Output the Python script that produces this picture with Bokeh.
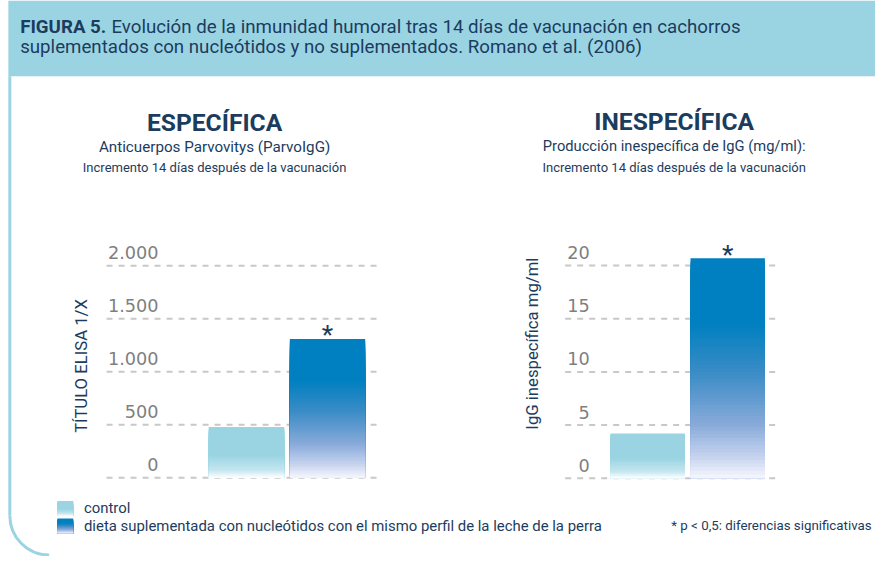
from math import pi
from bokeh.plotting import figure
from bokeh.models import Range1d
from bokeh.core.properties import value
from bokeh.embed import file_html
from bokeh.resources import INLINE

# ---------------- data ----------------
categories = ["control", "dieta suplementada con nucleótidos con el mismo perfil de la leche de la perra"]
elisa_values = [480, 1310]          # TÍTULO ELISA 1/X
igg_values = [4.2, 20.7]            # IgG inespecífica mg/ml
elisa_ticks = [0, 500, 1000, 1500, 2000]
elisa_tick_labels = ["0", "500", "1.000", "1.500", "2.000"]
igg_ticks = [0, 5, 10, 15, 20]
igg_tick_labels = ["0", "5", "10", "15", "20"]
significant = [False, True]

# ---------------- styles ----------------
NAVY = "#1c3c5e"
BAND = "#9ad4e3"
GRID = "#c8c8c8"
TICK = "#7f7f7f"
STOPS = [
    [(0.0, "#9ad4e2"), (0.55, "#9ad4e2"), (0.85, "#c4e6ef"), (1.0, "#ffffff")],
    [(0.0, "#0080c0"), (0.30, "#0080c0"), (0.52, "#3a8cc6"), (0.75, "#86a9d9"),
     (0.90, "#c5d2ee"), (1.0, "#f6f7fd")],
]

W, H = 875, 556
SX, SY = W / 891, H / 572


def X(xi):
    return xi * SX


def Y(yi):
    return H - yi * SY


def fs(px):
    return "%.1fpx" % (px * SX)


def hex2rgb(h):
    h = h.lstrip("#")
    return [int(h[i:i + 2], 16) for i in (0, 2, 4)]


def grad(stops, f):
    for (f0, c0), (f1, c1) in zip(stops[:-1], stops[1:]):
        if f <= f1:
            t = 0 if f1 == f0 else (f - f0) / (f1 - f0)
            a, b = hex2rgb(c0), hex2rgb(c1)
            return "#%02x%02x%02x" % tuple(int(round(a[k] + (b[k] - a[k]) * t)) for k in range(3))
    return stops[-1][1]


def lin_range(v0, p0, v1, p1, total):
    scale = (p1 - p0) / (v1 - v0)
    start = v0 - p0 / scale
    return Range1d(start, start + total / scale), scale


p = figure(width=W, height=H, x_range=Range1d(0, W), y_range=Range1d(0, H),
           output_backend="svg", toolbar_location=None,
           x_axis_location=None, y_axis_location=None,
           min_border=0, min_border_left=0, min_border_right=0,
           min_border_top=0, min_border_bottom=0)
p.grid.visible = False
p.outline_line_color = None
p.background_fill_color = "white"
p.border_fill_color = "white"

r_elisa, s_elisa = lin_range(0, Y(491), 2000, Y(273), H)
r_igg, s_igg = lin_range(0, Y(491.5), 20, Y(272.7), H)
r_x1, _ = lin_range(0, X(250.5), 1, X(333), W)
r_x2, _ = lin_range(0, X(659), 1, X(740.5), W)
p.extra_y_ranges = {"elisa": r_elisa, "igg": r_igg}
p.extra_x_ranges = {"x1": r_x1, "x2": r_x2}
pix = {"elisa": s_elisa, "igg": s_igg}

# ---------------- frame ----------------
p.quad(left=[X(8)], right=[W], bottom=[Y(78)], top=[H], fill_color=BAND, line_color=None)
p.segment(x0=[X(9.5)], x1=[X(9.5)], y0=[Y(78)], y1=[Y(530)], line_color=BAND, line_width=3)
p.arc(x=[X(49.5)], y=[Y(530)], radius=40 * SX, start_angle=pi, end_angle=1.5 * pi,
      line_color=BAND, line_width=3)

p.text(x=[X(20)], y=[Y(27)], text=["FIGURA 5."], text_font=value("Roboto"),
       text_font_style="bold", text_font_size=fs(19), text_color=NAVY, text_baseline="middle")
p.text(x=[X(113)], y=[Y(27)],
       text=["Evolución de la inmunidad humoral tras 14 días de vacunación en cachorros"],
       text_font=value("Roboto"), text_font_size=fs(19), text_color=NAVY, text_baseline="middle")
p.text(x=[X(20)], y=[Y(48)],
       text=["suplementados con nucleótidos y no suplementados. Romano et al. (2006)"],
       text_font=value("Roboto"), text_font_size=fs(19), text_color=NAVY, text_baseline="middle")


# ---------------- chart titles ----------------
def titles(cx, t1, y1, t2, y2, s2, t3, y3):
    p.text(x=[X(cx)], y=[Y(y1)], text=[t1], text_font=value("Roboto"), text_font_style="bold",
           text_font_size=fs(25), text_color=NAVY, text_align="center", text_baseline="middle")
    p.text(x=[X(cx)], y=[Y(y2)], text=[t2], text_font=value("Roboto"),
           text_font_size=fs(s2), text_color=NAVY, text_align="center", text_baseline="middle")
    p.text(x=[X(cx)], y=[Y(y3)], text=[t3], text_font=value("Roboto"),
           text_font_size=fs(13.2), text_color=NAVY, text_align="center", text_baseline="middle")


titles(218, "ESPECÍFICA", 126, "Anticuerpos Parvovitys (ParvoIgG)", 151, 15.5,
       "Incremento 14 días después de la vacunación", 172)
titles(686, "INESPECÍFICA", 124, "Producción inespecífica de IgG (mg/ml):", 150, 15,
       "Incremento 14 días después de la vacunación", 172)


# ---------------- charts ----------------
def chart(values, ticks, labels, xr, yr, grid_x0, grid_x1, label_x, ylabel, ylabel_x, ylabel_y):
    n = len(ticks)
    up = 1.0 / pix[yr]   # data units per screen pixel
    p.segment(x0=[X(grid_x0)] * n, x1=[X(grid_x1)] * n, y0=ticks, y1=ticks, y_range_name=yr,
              line_color=GRID, line_width=2, line_dash="6 6")
    p.text(x=[X(label_x)] * n, y=[t + 13 * up for t in ticks], text=labels, y_range_name=yr,
           text_font=value("DejaVu Sans"), text_font_size=fs(18), text_color=TICK,
           text_align="right", text_baseline="middle")
    N = 60
    bw = 0.93
    for i, v in enumerate(values):
        tops, cols = [], []
        for k in range(N):
            tops.append(v * (1 - k / N))
            cols.append(grad(STOPS[i], (k + 0.5) / N))
        p.quad(left=[i - bw / 2] * N, right=[i + bw / 2] * N, bottom=[0] * N, top=tops,
               fill_color=cols, line_color=None, x_range_name=xr, y_range_name=yr)
    sx = [i for i, s in enumerate(significant) if s]
    sy = [values[i] + 5 * up for i in sx]
    p.text(x=sx, y=sy, text=["*"] * len(sx), x_range_name=xr, y_range_name=yr,
           text_font=value("Roboto"), text_font_size=fs(27), text_color=NAVY,
           text_align="center", text_baseline="middle")
    p.text(x=[X(ylabel_x)], y=[Y(ylabel_y)], text=[ylabel], angle=pi / 2,
           text_font=value("Roboto"), text_font_size=fs(17), text_color=NAVY,
           text_align="center", text_baseline="middle")


chart(elisa_values, elisa_ticks, elisa_tick_labels, "x1", "elisa", 108, 387, 161,
      "TÍTULO ELISA 1/X", 82, 376)
chart(igg_values, igg_ticks, igg_tick_labels, "x2", "igg", 575, 795, 600,
      "IgG inespecífica mg/ml", 542, 353)

# ---------------- legend ----------------
NL = 30
for i, (top_y, bot_y) in enumerate([(515, 530), (533, 548)]):
    tops, cols = [], []
    for k in range(NL):
        tops.append(Y(top_y) - (Y(top_y) - Y(bot_y)) * k / NL)
        cols.append(grad(STOPS[i], (k + 0.5) / NL))
    p.quad(left=[X(58)] * NL, right=[X(74)] * NL, bottom=[Y(bot_y)] * NL, top=tops,
           fill_color=cols, line_color=None)
p.text(x=[X(85)] * 2, y=[Y(522), Y(541)], text=categories, text_font=value("Roboto"),
       text_font_size=fs(15.2), text_color=NAVY, text_baseline="middle")
p.text(x=[X(887)], y=[Y(540)], text=["* p < 0,5: diferencias significativas"],
       text_font=value("Roboto"), text_font_size=fs(13.5), text_color=NAVY,
       text_align="right", text_baseline="middle")

open("out.html", "w").write(file_html(p, INLINE))
